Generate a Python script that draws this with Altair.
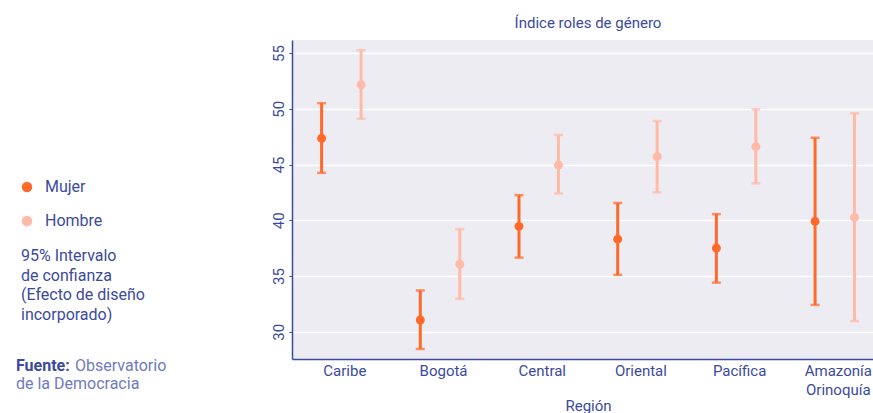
import json
import altair as alt
import pandas as pd

# ---------------- data ----------------
regions = ["Caribe", "Bogotá", "Central", "Oriental", "Pacífica", "Amazonía Orinoquía"]
region_labels = [["Caribe"], ["Bogotá"], ["Central"], ["Oriental"], ["Pacífica"], ["Amazonía", "Orinoquía"]]
series = ["Mujer", "Hombre"]

mujer_mean = [47.35, 31.05, 39.45, 38.3, 37.5, 39.9]
mujer_lo = [44.25, 28.45, 36.65, 35.1, 34.4, 32.4]
mujer_hi = [50.5, 33.7, 42.25, 41.55, 40.55, 47.4]

hombre_mean = [52.15, 36.05, 44.95, 45.7, 46.6, 40.25]
hombre_lo = [49.1, 32.95, 42.4, 42.5, 43.3, 30.95]
hombre_hi = [55.25, 39.2, 47.65, 48.9, 49.95, 49.6]

y_ticks = [30, 35, 40, 45, 50, 55]

chart_title = "Índice roles de género"
x_title = "Región"
note_lines = ["95% Intervalo", "de confianza", "(Efecto de diseño", "incorporado)"]
source_bold = "Fuente:"
source_rest = ["Observatorio", "de la Democracia"]

rows = []
for i, r in enumerate(regions):
    rows.append({"idx": i, "region": r, "sexo": "Mujer", "mean": mujer_mean[i], "lo": mujer_lo[i], "hi": mujer_hi[i]})
    rows.append({"idx": i, "region": r, "sexo": "Hombre", "mean": hombre_mean[i], "lo": hombre_lo[i], "hi": hombre_hi[i]})
df = pd.DataFrame(rows)

# ---------------- style ----------------
ORANGE = "#FF6A2B"
SALMON = "#FFBAA8"
BLUE = "#3B4A9E"
LIGHTBLUE = "#6E7BBD"
BG = "#EDECF2"
FONT = "Roboto"

W, H = 581, 319

x_enc = alt.X(
    "xpos:Q",
    scale=alt.Scale(domain=[-0.5, 5.387], nice=False, zero=False),
    axis=alt.Axis(
        values=list(range(len(regions))),
        labelExpr=f"{json.dumps(region_labels, ensure_ascii=False)}[datum.value]",
        ticks=False,
        grid=False,
        domainColor=BLUE,
        domainWidth=1.5,
        labelColor=BLUE,
        labelFont=FONT,
        labelFontSize=15,
        labelPadding=4,
        labelLineHeight=19,
        labelOffset=3,
        title=x_title,
        titleFont=FONT,
        titleFontSize=15,
        titleFontWeight="normal",
        titleColor=BLUE,
        titleX=296,
        titleY=51,
        titleBaseline="alphabetic",
    ),
)

y_axis = alt.Axis(
    values=y_ticks,
    grid=True,
    gridColor="white",
    gridWidth=1.5,
    domainColor=BLUE,
    domainWidth=1.5,
    tickColor=BLUE,
    tickSize=3,
    labelAngle=270,
    labelAlign="center",
    labelBaseline="bottom",
    labelPadding=3,
    labelColor=BLUE,
    labelFont=FONT,
    labelFontSize=15,
    title=None,
)
y_scale = alt.Scale(domain=[27.55, 56.17], nice=False, zero=False)

color_enc = alt.Color(
    "sexo:N",
    scale=alt.Scale(domain=series, range=[ORANGE, SALMON]),
    legend=None,
)

base = alt.Chart(df).transform_calculate(
    xpos="datum.idx + (datum.sexo === 'Mujer' ? -0.2 : 0.2)"
)

rules = base.mark_rule(strokeWidth=3).encode(
    x=x_enc,
    y=alt.Y("lo:Q", scale=y_scale, axis=y_axis),
    y2="hi:Q",
    color=color_enc,
)
cap_lo = base.mark_tick(orient="horizontal", size=9, thickness=2.5).encode(
    x=x_enc, y=alt.Y("lo:Q", scale=y_scale, axis=y_axis), color=color_enc
)
cap_hi = base.mark_tick(orient="horizontal", size=9, thickness=2.5).encode(
    x=x_enc, y=alt.Y("hi:Q", scale=y_scale, axis=y_axis), color=color_enc
)
points = base.mark_circle(size=80, opacity=1).encode(
    x=x_enc, y=alt.Y("mean:Q", scale=y_scale, axis=y_axis), color=color_enc
)

one = alt.Data(values=[{}])


def txt(text, x, y, color=BLUE, weight="normal", align="left", baseline="middle", size=16):
    return alt.Chart(one).mark_text(
        font=FONT, fontSize=size, fontWeight=weight, color=color, align=align, baseline=baseline
    ).encode(x=alt.value(x), y=alt.value(y), text=alt.value(text))


def dot(color, x, y):
    return alt.Chart(one).mark_circle(size=110, opacity=1, color=color).encode(
        x=alt.value(x), y=alt.value(y)
    )


layers = [rules, cap_lo, cap_hi, points]
layers.append(txt(chart_title, 296, -12, align="center", baseline="alphabetic", size=15))
layers.append(dot(ORANGE, -265, 147))
layers.append(txt(series[0], -247, 147))
layers.append(dot(SALMON, -265, 181))
layers.append(txt(series[1], -247, 181))
for k, line in enumerate(note_lines):
    layers.append(txt(line, -271, 216 + k * 19.7))
layers.append(txt(source_bold, -276, 326, weight="bold"))
layers.append(txt(source_rest[0], -217, 326, color=LIGHTBLUE))
layers.append(txt(source_rest[1], -276, 344, color=LIGHTBLUE))

chart = (
    alt.layer(*layers)
    .properties(
        width=W,
        height=H,
        autosize="none",
        padding={"left": 292, "top": 40, "right": 0, "bottom": 54},
    )
    .configure_view(stroke=None, fill=BG)
)

chart.save("out.html", embed_options={"renderer": "svg", "actions": False})
